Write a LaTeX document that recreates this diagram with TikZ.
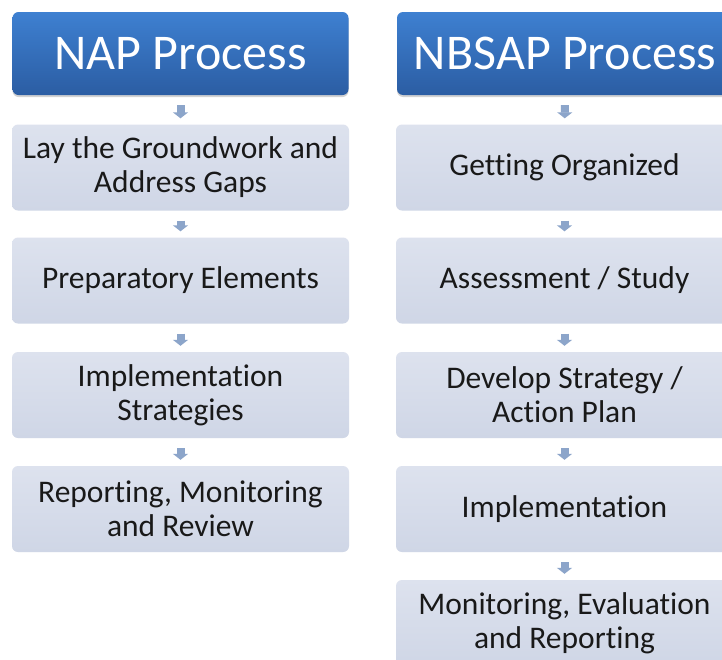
\documentclass[tikz,border=0pt]{standalone}
\usepackage{fontspec}
\setmainfont[Ligatures=NoCommon]{Carlito}
\usetikzlibrary{arrows.meta,shadows}

\definecolor{headtop}{HTML}{3E80D1}
\definecolor{headbot}{HTML}{2B5DA3}
\definecolor{steptop}{HTML}{DDE2EE}
\definecolor{stepbot}{HTML}{CFD6E6}
\definecolor{arrowblue}{HTML}{8CA5CA}

\tikzset{
  head/.style={rounded corners=6pt,minimum width=336pt,minimum height=83pt,
    top color=headtop,bottom color=headbot,text=white,
    font=\fontsize{50}{54}\selectfont,
    drop shadow={opacity=0.35,shadow xshift=0pt,shadow yshift=-2pt}},
  stepbox/.style={rounded corners=6pt,minimum width=337pt,minimum height=86pt,
    top color=steptop,bottom color=stepbot,align=center,text=black!90,
    font=\fontsize{31.5}{34}\selectfont},
  flow/.style={draw=arrowblue,line width=8pt,
    -{Triangle[width=15pt,length=6pt]},shorten <=10pt,shorten >=6pt}
}

\begin{document}
\begin{tikzpicture}[x=1pt,y=-1pt]
    \clip (0,0) rectangle (722,659);
    \fill[white] (0,0) rectangle (722,659);

    % NAP column
    \node[head] (nap) at (180.5, 53.5) {NAP Process};
    \node[stepbox] (nap1) at (180.5, 167.5) {Lay the Groundwork and\\Address Gaps};
    \node[stepbox] (nap2) at (180.5, 280.5) {Preparatory Elements};
    \node[stepbox] (nap3) at (180.5, 395) {Implementation\\Strategies};
    \node[stepbox] (nap4) at (180.5, 509) {Reporting, Monitoring\\and Review};

    % NBSAP column
    \node[head] (nbsap) at (565, 53.5) {NBSAP Process};
    \node[stepbox] (nbsap1) at (564.5, 167.5) {Getting Organized};
    \node[stepbox] (nbsap2) at (564.5, 280.5) {Assessment / Study};
    \node[stepbox] (nbsap3) at (564.5, 395) {Develop Strategy /\\Action Plan};
    \node[stepbox] (nbsap4) at (564.5, 509) {Implementation};
    \node[stepbox] (nbsap5) at (564.5, 623) {Monitoring, Evaluation\\and Reporting};

    \draw[flow] (nap) -- (nap1);
    \draw[flow] (nap1) -- (nap2);
    \draw[flow] (nap2) -- (nap3);
    \draw[flow] (nap3) -- (nap4);

    \draw[flow] (nbsap) -- (nbsap1);
    \draw[flow] (nbsap1) -- (nbsap2);
    \draw[flow] (nbsap2) -- (nbsap3);
    \draw[flow] (nbsap3) -- (nbsap4);
    \draw[flow] (nbsap4) -- (nbsap5);
  \end{tikzpicture}
\end{document}
